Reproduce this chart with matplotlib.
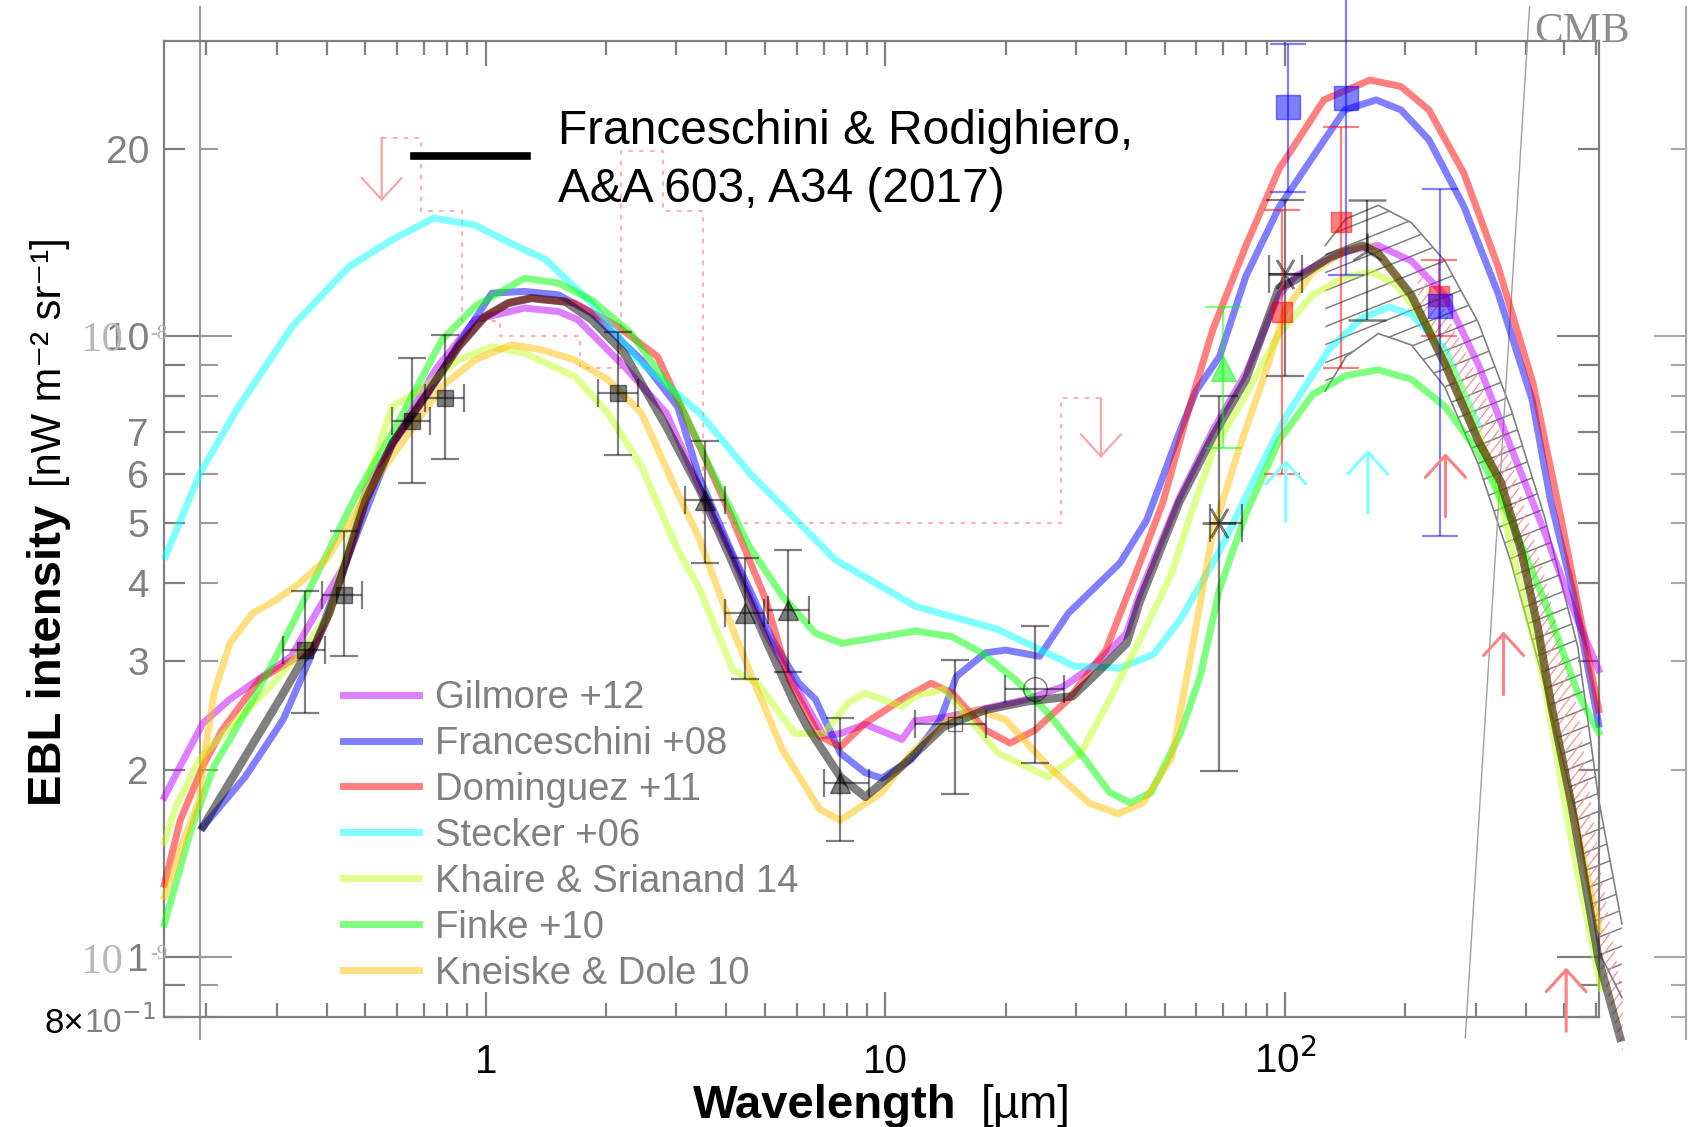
import numpy as np
import matplotlib
matplotlib.use('Agg')
import matplotlib.pyplot as plt
import matplotlib.transforms as mtransforms
from matplotlib.lines import Line2D
from matplotlib.patches import Polygon
from matplotlib.collections import LineCollection
from matplotlib.ticker import FixedLocator, FixedFormatter, NullFormatter, LogLocator

plt.rcParams['font.family'] = ['Liberation Sans', 'DejaVu Sans']

# ---- EBL models (wavelength in micron, intensity in nW m^-2 sr^-1) ----
gil_x = [0.157, 0.172, 0.196, 0.229, 0.285, 0.326, 0.376, 0.446, 0.501, 0.748, 0.94, 1.25, 1.52, 1.70,
         2.22, 2.83, 3.43, 4.15, 5.02, 7.01, 7.71, 8.90, 11.0, 11.85, 14.0, 22.6, 28.0, 33.9, 40.1,
         43.3, 54.4, 65.9, 79.8, 96.6, 106, 142, 171, 207, 251, 304, 368, 446, 540, 609]
gil_y = [1.81, 2.03, 2.38, 2.60, 2.87, 3.05, 3.58, 4.31, 5.66, 8.83, 10.63, 11.10, 10.96, 10.63,
         8.94, 7.52, 5.70, 4.42, 3.32, 2.27, 2.29, 2.37, 2.24, 2.40, 2.43, 2.60, 2.73, 2.98, 3.32,
         3.85, 5.50, 7.05, 8.73, 11.64, 12.50, 13.71, 14.0, 13.22, 11.64, 9.02, 6.60, 4.83, 3.48, 2.90]

fra_x = [0.196, 0.250, 0.311, 0.362, 0.446, 0.584, 0.706, 0.855, 1.036, 1.25, 1.52, 1.84, 2.45, 3.02,
         3.43, 4.15, 4.57, 5.22, 6.07, 6.68, 7.71, 8.90, 9.79, 11.6, 13.7, 15.05, 17.8, 20.0, 24.3,
         28.7, 38.6, 45.0, 54.4, 59.9, 68.5, 79.8, 96.6, 117, 141, 169, 195, 229, 280, 341, 415,
         461, 531, 609]
fra_y = [1.62, 1.95, 2.41, 3.01, 4.31, 6.72, 8.00, 9.72, 11.73, 11.81, 11.66, 10.89, 9.16, 7.70,
         5.90, 4.45, 3.91, 3.24, 2.76, 2.60, 2.13, 1.98, 1.94, 2.08, 2.41, 2.83, 3.09, 3.12, 3.05,
         3.58, 4.31, 5.05, 7.00, 8.17, 9.27, 12.50, 16.14, 19.40, 23.15, 24.03, 23.15, 20.72, 16.19,
         11.73, 7.90, 5.45, 3.76, 2.37]

dom_x = [0.157, 0.172, 0.196, 0.219, 0.272, 0.329, 0.369, 0.406, 0.446, 0.501, 0.584, 0.706, 0.855,
         0.996, 1.14, 1.30, 1.67, 2.14, 2.69, 3.43, 4.15, 5.02, 5.74, 6.84, 7.71, 8.90, 11.0, 13.0,
         14.7, 17.8, 20.5, 23.7, 28.7, 35.6, 43.0, 49.5, 56.6, 65.9, 79.8, 96.6, 125, 163, 195, 229,
         280, 341, 417, 489, 609]
dom_y = [1.31, 1.66, 2.03, 2.32, 2.80, 3.01, 3.12, 3.58, 4.31, 5.45, 6.72, 8.00, 9.62, 10.76, 11.31,
         11.52, 11.31, 10.37, 9.27, 6.64, 5.06, 3.76, 2.80, 2.27, 2.18, 2.38, 2.60, 2.76, 2.66, 2.32,
         2.21, 2.32, 2.60, 3.12, 4.26, 5.41, 7.39, 10.24, 14.0, 18.6, 24.03, 25.87, 25.25, 23.15,
         18.31, 12.95, 8.40, 5.13, 2.50]

ste_x = [0.158, 0.193, 0.238, 0.329, 0.455, 0.583, 0.741, 0.94, 1.16, 1.41, 1.84, 2.40, 3.43, 4.57,
         6.08, 7.50, 11.9, 19.1, 29.7, 38.5, 46.8, 54.4, 68.5, 83.0, 100, 129, 156, 182, 207, 251, 304]
ste_y = [4.42, 6.02, 7.61, 10.4, 12.95, 14.3, 15.5, 15.1, 14.1, 13.3, 11.3, 9.16, 7.52, 6.02, 5.00,
         4.36, 3.67, 3.37, 2.94, 2.92, 3.07, 3.48, 4.50, 5.81, 7.39, 9.54, 10.7, 11.15, 10.84, 9.54, 7.19]

kha_x = [0.157, 0.168, 0.192, 0.229, 0.285, 0.355, 0.406, 0.446, 0.501, 0.584, 0.706, 0.855, 1.036,
         1.25, 1.67, 2.02, 2.45, 3.02, 3.43, 4.15, 4.78, 5.93, 7.01, 8.09, 8.90, 11.0, 11.85, 14.0,
         15.8, 19.1, 25.5, 30.8, 36.4, 44.1, 52.1, 57.8, 65.9, 79.8, 96.6, 117, 142, 165, 189, 228,
         276, 335, 390, 446, 521, 617]
kha_y = [1.53, 1.75, 2.08, 2.35, 2.70, 3.17, 3.58, 4.45, 5.75, 7.70, 8.30, 9.16, 9.62, 9.39, 8.61,
         7.52, 6.17, 4.53, 3.91, 2.90, 2.76, 2.29, 2.29, 2.57, 2.66, 2.53, 2.63, 2.70, 2.47, 2.13,
         1.95, 2.13, 2.60, 3.32, 4.16, 5.12, 6.51, 8.05, 10.10, 11.64, 12.50, 12.68, 12.15, 10.39,
         8.28, 5.89, 3.91, 2.74, 1.53, 0.89]

fin_x = [0.157, 0.184, 0.209, 0.262, 0.299, 0.348, 0.413, 0.482, 0.584, 0.777, 0.94, 1.25, 1.52, 1.84,
         2.31, 3.00, 3.63, 4.57, 5.53, 6.69, 7.79, 9.80, 11.9, 14.65, 17.4, 21.1, 25.5, 31.6, 36.4,
         41.0, 46.2, 54.7, 61.3, 68.5, 79.8, 96.6, 117, 142, 171, 207, 251, 304, 368, 446, 540, 609]
fin_y = [1.13, 1.62, 2.03, 2.60, 3.05, 3.71, 4.64, 5.66, 6.98, 9.87, 11.17, 12.40, 12.18, 11.44,
         10.11, 8.00, 6.17, 4.58, 3.81, 3.32, 3.20, 3.28, 3.35, 3.28, 3.09, 2.80, 2.47, 2.08, 1.84,
         1.77, 1.84, 2.29, 2.83, 3.91, 5.18, 6.79, 8.05, 8.64, 8.83, 8.52, 7.71, 6.51, 5.04, 3.74,
         2.66, 2.30]

kne_x = [0.157, 0.172, 0.192, 0.196, 0.209, 0.229, 0.261, 0.299, 0.342, 0.398, 0.446, 0.530, 0.642,
         0.777, 0.94, 1.16, 1.38, 1.67, 2.02, 2.45, 3.02, 3.43, 4.15, 4.66, 5.52, 6.84, 7.71, 9.79,
         11.6, 14.35, 16.95, 20.0, 25.5, 32.3, 38.2, 44.1, 52.1, 58.5, 65.9, 76.8, 89.4, 100, 117,
         142, 162, 171, 207, 251, 304, 347, 390, 429, 463, 518, 609]
kne_y = [1.25, 1.49, 1.79, 2.03, 2.66, 3.20, 3.58, 3.76, 4.00, 4.36, 4.88, 5.87, 6.98, 8.30, 9.16,
         9.69, 9.51, 9.16, 8.51, 7.52, 5.59, 4.70, 3.37, 2.80, 2.16, 1.73, 1.66, 1.84, 2.13, 2.41,
         2.50, 2.41, 2.03, 1.77, 1.70, 1.77, 2.10, 3.14, 4.83, 6.60, 8.76, 11.0, 12.68, 13.80, 14.0,
         13.6, 11.64, 9.02, 6.79, 5.81, 4.50, 3.39, 2.55, 1.79, 1.11]

# Franceschini & Rodighiero 2017
fr_x = [0.196, 0.305, 0.348, 0.369, 0.406, 0.446, 0.501, 0.584, 0.706, 0.855, 0.996, 1.14, 1.30, 1.58,
        1.84, 2.22, 2.83, 3.43, 4.15, 5.02, 5.86, 6.37, 7.71, 8.90, 11.0, 14.0, 17.8, 22.6, 29.4,
        33.9, 40.1, 43.3, 54.4, 65.9, 79.8, 96.6, 106, 129, 156, 171, 207, 251, 304, 347, 390, 429,
        463, 518, 609, 689]
fr_y = [1.62, 2.60, 3.01, 3.12, 3.58, 4.31, 5.45, 6.72, 8.00, 9.62, 10.76, 11.31, 11.52, 11.37,
        10.63, 9.39, 7.15, 5.66, 4.31, 3.24, 2.60, 2.35, 1.95, 1.81, 2.03, 2.35, 2.50, 2.58, 2.63,
        2.87, 3.20, 3.74, 5.41, 6.89, 8.52, 11.98, 12.32, 13.41, 14.0, 13.61, 11.64, 9.02, 6.79,
        5.81, 4.50, 3.39, 2.55, 1.79, 0.99, 0.741]

# hatched far-IR band (grey) and narrow red band
band_x = [126, 142, 171, 207, 251, 304, 368, 446, 540, 609, 696]
band_hi = [14.0, 15.46, 16.25, 15.24, 13.22, 10.54, 7.61, 5.11, 3.155, 1.79, 1.13]
band_lo = [8.16, 9.27, 10.10, 9.68, 8.28, 6.23, 4.31, 2.74, 1.65, 1.02, 0.86]
red_x = [215, 251, 304, 368, 446, 540, 609, 700]
red_lo = [11.3, 9.02, 6.79, 4.97, 2.95, 1.65, 0.99, 0.70]
red_hi = [12.8, 11.0, 8.6, 6.3, 4.1, 2.5, 1.45, 0.86]

# ---- data points ----
sq_x = [0.353, 0.443, 0.654, 0.792, 2.14]
sq_y = [3.12, 3.83, 7.29, 7.94, 8.10]
sq_ylo = [2.47, 3.05, 5.81, 6.33, 6.43]
sq_yhi = [3.88, 4.85, 9.21, 10.05, 10.15]
sq_xlo = [0.311, 0.389, 0.584, 0.706, 1.908]
sq_xhi = [0.397, 0.489, 0.727, 0.880, 2.40]

tri_x = [3.53, 4.44, 5.69, 7.71]
tri_y = [5.45, 3.58, 3.62, 1.906]
tri_ylo = [4.31, 2.80, 2.88, 1.535]
tri_yhi = [6.77, 4.39, 4.53, 2.43]
tri_xlo = [3.15, 3.96, 5.08, 7.0]
tri_xhi = [3.96, 4.97, 6.44, 9.1]

osq_x, osq_y, osq_ylo, osq_yhi, osq_xlo, osq_xhi = [14.9], [2.37], [1.83], [3.01], [11.85], [17.8]
circ_x, circ_y, circ_ylo, circ_yhi, circ_xlo, circ_xhi = [23.7], [2.70], [2.05], [3.41], [19.9], [28.0]

ast_x = [68.5, 99.7]
ast_y = [5.00, 12.58]
ast_ylo = [1.99, 8.64]
ast_yhi = [8.00, 16.56]
ast_xlo = [65.0, 91.0]
ast_xhi = [78.0, 110.0]

tup_x, tup_y, tup_ylo, tup_yhi = [160], [13.71], [10.62], [16.56]

red_px = [98.2, 138, 243]
red_py = [10.96, 15.3, 11.6]
red_pylo = [6.0, 8.89, 10.0]
red_pyhi = [16.0, 21.7, 13.27]

blue_px = [101.7, 141.6, 243.4]
blue_py = [23.39, 24.17, 11.17]
blue_pylo = [17.05, 12.53, 4.76]
blue_pyhi = [29.6, 40.0, 17.25]

grn_px, grn_py, grn_pylo, grn_pyhi = [70.0], [8.89], [6.60], [11.13]

# lower limits (arrows up) and upper limits (arrows down)
cy_lim_x = [100.4, 161]
cy_lim_lo = [5.03, 5.19]
cy_lim_hi = [6.32, 6.56]
rd_lim_x = [251.8, 351.9, 504.9]
rd_lim_lo = [5.12, 2.645, 0.759]
rd_lim_hi = [6.48, 3.345, 0.961]
ul_arrow_x = [0.549, 34.6]
ul_arrow_top = [20.9, 7.95]
ul_arrow_bot = [16.5, 6.37]

ul_x = [0.549, 0.689, 0.689, 0.870, 0.870, 1.086, 1.086, 1.72, 1.72, 2.18, 2.18, 2.78, 2.78, 3.50,
        3.50, 27.5, 27.5, 34.6]
ul_y = [20.9, 20.9, 15.9, 15.9, 10.6, 10.6, 10.0, 10.0, 8.9, 8.9, 19.85, 19.85, 15.9, 15.9, 5.0, 5.0,
        7.95, 7.95]

cmb_x = [408.9, 282.3]
cmb_y = [33.96, 0.740]

models = [
    ('Gilmore +12', gil_x, gil_y, '#C000FF'),
    ('Franceschini +08', fra_x, fra_y, '#0000FF'),
    ('Dominguez +11', dom_x, dom_y, '#FF0000'),
    ('Stecker +06', ste_x, ste_y, '#00FFFF'),
    ('Khaire & Srianand 14', kha_x, kha_y, '#C0FF20'),
    ('Finke +10', fin_x, fin_y, '#00FF00'),
    ('Kneiske & Dole 10', kne_x, kne_y, '#FFC000'),
]

GRAY = '#808080'
W, H = 1696, 1127
fig = plt.figure(figsize=(W / 100, H / 100), dpi=100)
ax = fig.add_axes([164.4 / W, 1 - 1017 / H, (1599 - 164.4) / W, (1017 - 41) / H])
ax.set_xscale('log')
ax.set_yscale('log')
ax.set_xlim(0.157, 610)
ax.set_ylim(0.8, 29.9)
ax_w, ax_h = 1599 - 164.4, 1017 - 41


def hatch_band(x, lo, hi, color, slope, gap, lw):
    verts = np.column_stack([np.r_[x, x[::-1]], np.r_[hi, lo[::-1]]])
    region = Polygon(verts, closed=True, facecolor='none', edgecolor='none')
    ax.add_patch(region)
    region.set_clip_on(False)
    k = slope * ax_w / ax_h
    segs = [[(0.5, b + 0.5 * k), (1.2, b + 1.2 * k)] for b in np.arange(-2.0, 1.0, gap / ax_h)]
    lc = LineCollection(segs, colors=color, linewidths=lw, transform=ax.transAxes, zorder=2)
    ax.add_collection(lc, autolim=False)
    lc.set_clip_path(region)
    lc.set_clip_box(None)


hatch_band(band_x, band_lo, band_hi, GRAY, 0.40, 18, 1.1)
hatch_band(red_x, red_lo, red_hi, '#FF9090', 1.3, 12, 0.9)
ax.plot(band_x, band_hi, color=GRAY, lw=1.2, clip_on=False, zorder=2)
ax.plot(band_x, band_lo, color=GRAY, lw=1.2, clip_on=False, zorder=2)

# dotted upper-limit envelope
ax.plot(ul_x, ul_y, color='#FFA8A8', lw=1.3, ls=(0, (2.5, 3.5)), zorder=2)

for label, x, y, c in models:
    ax.plot(x, y, color=c, alpha=0.5, lw=5, label=label, clip_on=False, zorder=3)
ax.plot(fr_x, fr_y, color='black', alpha=0.5, lw=6, clip_on=False, zorder=4)

ax.plot(cmb_x, cmb_y, color='#A0A0A0', lw=1.0, clip_on=False, zorder=2)


def yerr(y, lo, hi):
    return [np.subtract(y, lo), np.subtract(hi, y)]


ekw = dict(elinewidth=1.6, capthick=1.6, zorder=5, clip_on=False)
ax.errorbar(sq_x, sq_y, yerr=yerr(sq_y, sq_ylo, sq_yhi), xerr=yerr(sq_x, sq_xlo, sq_xhi),
            fmt='s', ms=12, color='black', alpha=0.5, capsize=10, **ekw)
ax.errorbar(tri_x, tri_y, yerr=yerr(tri_y, tri_ylo, tri_yhi), xerr=yerr(tri_x, tri_xlo, tri_xhi),
            fmt='^', ms=14, color='black', alpha=0.5, capsize=10, **ekw)
ax.errorbar(osq_x, osq_y, yerr=yerr(osq_y, osq_ylo, osq_yhi), xerr=yerr(osq_x, osq_xlo, osq_xhi),
            fmt='s', ms=10, mfc='none', color='black', alpha=0.5, capsize=10, **ekw)
ax.errorbar(circ_x, circ_y, yerr=yerr(circ_y, circ_ylo, circ_yhi), xerr=yerr(circ_x, circ_xlo, circ_xhi),
            fmt='o', ms=17, mfc='none', color='black', alpha=0.5, capsize=10, **ekw)
ax.errorbar(ast_x, ast_y, yerr=yerr(ast_y, ast_ylo, ast_yhi), xerr=yerr(ast_x, ast_xlo, ast_xhi),
            fmt='none', color='black', alpha=0.5, capsize=14, **ekw)
ax.plot(ast_x, ast_y, ls='none', marker=(6, 2, 90), ms=24, mew=1.8, color='black', alpha=0.5, zorder=5)
ax.errorbar(tup_x, tup_y, yerr=yerr(tup_y, tup_ylo, tup_yhi), fmt='2', ms=26, mew=1.8,
            color='black', alpha=0.5, capsize=14, **ekw)
ax.errorbar(red_px, red_py, yerr=yerr(red_py, red_pylo, red_pyhi), fmt='s', ms=14,
            color='#FF0000', alpha=0.5, capsize=13, **ekw)
ax.errorbar(blue_px, blue_py, yerr=yerr(blue_py, blue_pylo, blue_pyhi), fmt='s', ms=17,
            color='#0000FF', alpha=0.5, capsize=13, **ekw)
ax.errorbar(grn_px, grn_py, yerr=yerr(grn_py, grn_pylo, grn_pyhi), fmt='^', ms=18,
            color='#00FF00', alpha=0.5, capsize=13, **ekw)

up_style = '->,head_length=0.35,head_width=0.32'
for xs, los, his, col in [(cy_lim_x, cy_lim_lo, cy_lim_hi, '#80FFFF'),
                          (rd_lim_x, rd_lim_lo, rd_lim_hi, '#FF8080')]:
    for xv, lo, hi in zip(xs, los, his):
        ax.annotate('', xy=(xv, hi), xytext=(xv, lo), annotation_clip=False, zorder=5,
                    arrowprops=dict(arrowstyle=up_style, color=col, lw=2.2, mutation_scale=45,
                                    shrinkA=0, shrinkB=0))
for xv, top, bot in zip(ul_arrow_x, ul_arrow_top, ul_arrow_bot):
    ax.annotate('', xy=(xv, bot), xytext=(xv, top), annotation_clip=False, zorder=5,
                arrowprops=dict(arrowstyle=up_style, color='#FFA0A0', lw=1.5, mutation_scale=45,
                                shrinkA=0, shrinkB=0))

# ---- axes styling ----
for sp in ax.spines.values():
    sp.set_color(GRAY)
    sp.set_linewidth(1.6)
ax.xaxis.set_major_locator(FixedLocator([1, 10, 100]))
ax.xaxis.set_major_formatter(NullFormatter())
ax.xaxis.set_minor_locator(LogLocator(base=10, subs=np.arange(2, 10)))
ax.xaxis.set_minor_formatter(NullFormatter())
ax.yaxis.set_major_locator(FixedLocator([1, 10]))
ax.yaxis.set_major_formatter(FixedFormatter(['1', '10']))
minor_y = [0.8, 0.9, 2, 3, 4, 5, 6, 7, 8, 9, 20]
ax.yaxis.set_minor_locator(FixedLocator(minor_y))
ax.yaxis.set_minor_formatter(FixedFormatter(['', '', '2', '3', '4', '5', '6', '7', '', '', '20']))
ax.tick_params(which='both', direction='in', top=True, right=True, color=GRAY, width=1.6)
ax.tick_params(axis='y', which='major', length=30, labelsize=28, labelcolor=GRAY, pad=11)
ax.tick_params(axis='y', which='minor', length=15, labelsize=28, labelcolor=GRAY, pad=11)
ax.tick_params(axis='x', which='major', length=18)
ax.tick_params(axis='x', which='minor', length=10)

xt = ax.get_xaxis_transform()
for v, s in zip([1, 10, 100], ['1', '10', '10$^2$']):
    ax.text(v, -56 / ax_h, s, transform=xt, ha='center', va='baseline', fontsize=29, color='black')

# second (underlying) frame lines with their own ticks
yt = mtransforms.blended_transform_factory(ax.transAxes, ax.transData)
inner_x = (200.4 - 164.4) / ax_w
outer_x = (1686 - 164.4) / ax_w
ax.plot([inner_x, inner_x], [33.9, 0.738], transform=yt, color='#9A9A9A', lw=1.5, clip_on=False)
ax.plot([outer_x, outer_x], [33.9, 0.738], transform=yt, color='#A8A8A8', lw=1.5, clip_on=False)
for yv in minor_y + [1, 10]:
    long_tick = yv in (1, 10)
    li = (31 if long_tick else 17) / ax_w
    lo_ = (31 if long_tick else 14) / ax_w
    ax.plot([inner_x, inner_x + li], [yv, yv], transform=yt, color='#9A9A9A', lw=1.5, clip_on=False)
    ax.plot([outer_x - lo_, outer_x], [yv, yv], transform=yt, color='#A8A8A8', lw=1.5, clip_on=False)

# overlapping labels of the underlying frame
fig.text(80 / W, 1 - 351 / H, '10', family='Liberation Serif', fontsize=31, color='#B8B8B8', va='baseline')
fig.text(150 / W, 1 - 339 / H, '-8', family='Liberation Serif', fontsize=15, color='#B0B0B0', va='baseline')
fig.text(80 / W, 1 - 973 / H, '10', family='Liberation Serif', fontsize=31, color='#B8B8B8', va='baseline')
fig.text(150 / W, 1 - 959 / H, '-9', family='Liberation Serif', fontsize=15, color='#B0B0B0', va='baseline')
fig.text(84 / W, 1 - 1033 / H, '8×', fontsize=25, color='black', ha='right', va='baseline')
fig.text(84 / W, 1 - 1033 / H, '10$^{-1}$', fontsize=24, color=GRAY, ha='left', va='baseline')
fig.text(1534 / W, 1 - 41.7 / H, 'CMB', family='Liberation Serif', fontsize=31, color='#8C8C8C',
         va='baseline')

# axis titles
fig.text(693 / W, 1 - 1118 / H, 'Wavelength', fontsize=34, weight='bold', va='baseline')
fig.text(981 / W, 1 - 1118 / H, '[µm]', fontsize=33, va='baseline')
fig.text(61 / W, 1 - 806 / H, 'EBL intensity', fontsize=34, weight='bold', rotation=90,
         rotation_mode='anchor', ha='left', va='baseline')
fig.text(61 / W, 1 - 487 / H, '[nW m\u207b\u00b2 sr\u207b\u00b9]', fontsize=30, rotation=90,
         rotation_mode='anchor', ha='left', va='baseline')

# reference key for the black curve
fig.add_artist(Line2D([414 / W, 527 / W], [1 - 155.8 / H] * 2, color='black', lw=5.5))
fig.text(558 / W, 1 - 144 / H, 'Franceschini & Rodighiero,', fontsize=34.5, va='baseline')
fig.text(558 / W, 1 - 201.7 / H, 'A&A 603, A34 (2017)', fontsize=34.5, va='baseline')

leg = ax.legend(loc='upper left', bbox_to_anchor=(343 / W, 1 - 680 / H), bbox_transform=fig.transFigure,
                frameon=False, fontsize=27.5, handlelength=2.0, handletextpad=0.42, labelspacing=0.26,
                borderpad=0, borderaxespad=0)
for t in leg.get_texts():
    t.set_color(GRAY)

ax.set_xlim(0.157, 610)
ax.set_ylim(0.8, 29.9)
fig.savefig('out.png', dpi=100)
